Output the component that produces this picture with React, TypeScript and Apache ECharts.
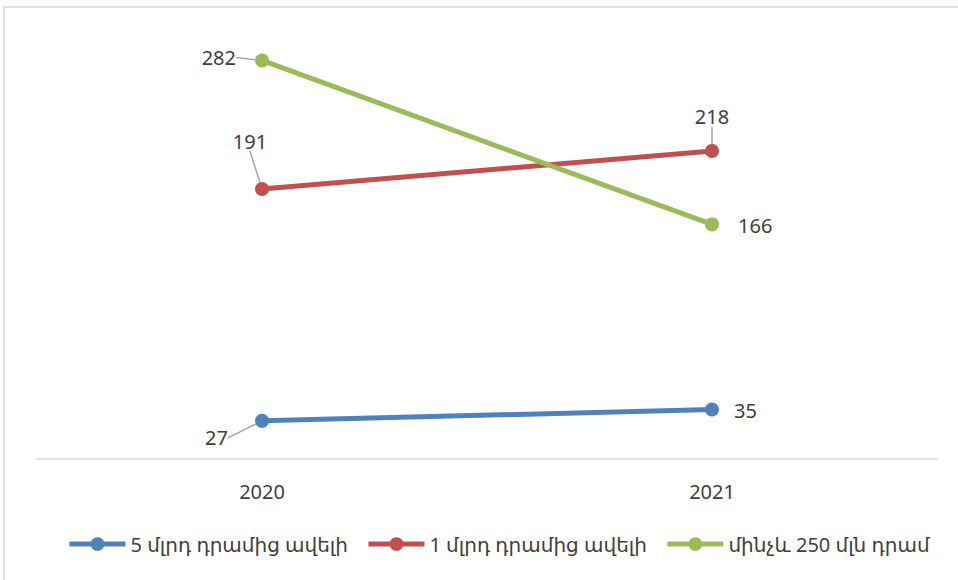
import React, { useEffect, useRef } from "react";
import * as echarts from "echarts";

const categories = ["2020", "2021"];
const seriesNames = ["5 մլրդ դրամից ավելի", "1 մլրդ դրամից ավելի", "մինչև 250 մլն դրամ"];
const over5bn = [27, 35];
const over1bn = [191, 218];
const under250m = [282, 166];
const colors = ["#4f81bd", "#c0504d", "#9bbb59"];

const FONT = "'Noto Sans', 'DejaVu Sans', sans-serif";

export default function App() {
  const ref = useRef<HTMLDivElement>(null);
  useEffect(() => {
    const chart = echarts.init(ref.current!, null, { renderer: "svg" });
    const labelBase = {
      show: true,
      fontFamily: FONT,
      fontSize: 20,
      color: "#404040",
    };
    const lineStyleLabel = { show: true, lineStyle: { color: "#a6a6a6", width: 1.5 } };
    const mk = (i: number, data: number[], layouts: any[]) => ({
      name: seriesNames[i],
      type: "line",
      data: data.map((v, j) => ({
        value: v,
        label: { ...labelBase, position: layouts[j].pos },
        labelLine: { ...lineStyleLabel, show: layouts[j].line },
      })),
      color: colors[i],
      symbol: "circle",
      symbolSize: 14,
      lineStyle: { width: 5, color: colors[i] },
      itemStyle: { color: colors[i] },
      label: labelBase,
      labelLine: lineStyleLabel,
      labelLayout: (params: any) => {
        const l = layouts[params.dataIndex];
        return { dx: l.dx, dy: l.dy };
      },
    });
    chart.setOption({
      animation: false,
      grid: { left: 37, right: 21, top: 35, bottom: 121 },
      legend: {
        bottom: 21,
        left: 62,
        itemWidth: 56,
        itemHeight: 17,
        itemGap: 18,
        lineStyle: { width: 5 },
        textStyle: { fontFamily: FONT, fontSize: 20, color: "#404040" },
        data: seriesNames,
      },
      xAxis: {
        type: "category",
        data: categories,
        boundaryGap: true,
        axisLine: { lineStyle: { color: "#d9d9d9", width: 1.5 } },
        axisTick: { show: false },
        axisLabel: { fontFamily: FONT, fontSize: 20, color: "#404040", margin: 22 },
      },
      yAxis: {
        type: "value",
        min: 0,
        max: 300,
        show: false,
        splitLine: { show: false },
      },
      graphic: [
        { type: "line", shape: { x1: 4, y1: 7, x2: 958, y2: 7 }, style: { stroke: "#d9d9d9", lineWidth: 1.5 } },
        { type: "line", shape: { x1: 4, y1: 7, x2: 4, y2: 580 }, style: { stroke: "#d9d9d9", lineWidth: 1.5 } },
      ],
      series: [
        mk(0, over5bn, [
          { pos: "left", dx: -22, dy: 17, line: true },
          { pos: "right", dx: 10, dy: 1, line: false },
        ]),
        mk(1, over1bn, [
          { pos: "top", dx: -12, dy: -26, line: true },
          { pos: "top", dx: 0, dy: -12, line: true },
        ]),
        mk(2, under250m, [
          { pos: "left", dx: -14, dy: -3, line: true },
          { pos: "right", dx: 14, dy: 1, line: false },
        ]),
      ],
    });
    return () => chart.dispose();
  }, []);
  return <div ref={ref} style={{ position: "fixed", left: 0, top: 0, width: 958, height: 580, background: "#fff" }} />;
}
